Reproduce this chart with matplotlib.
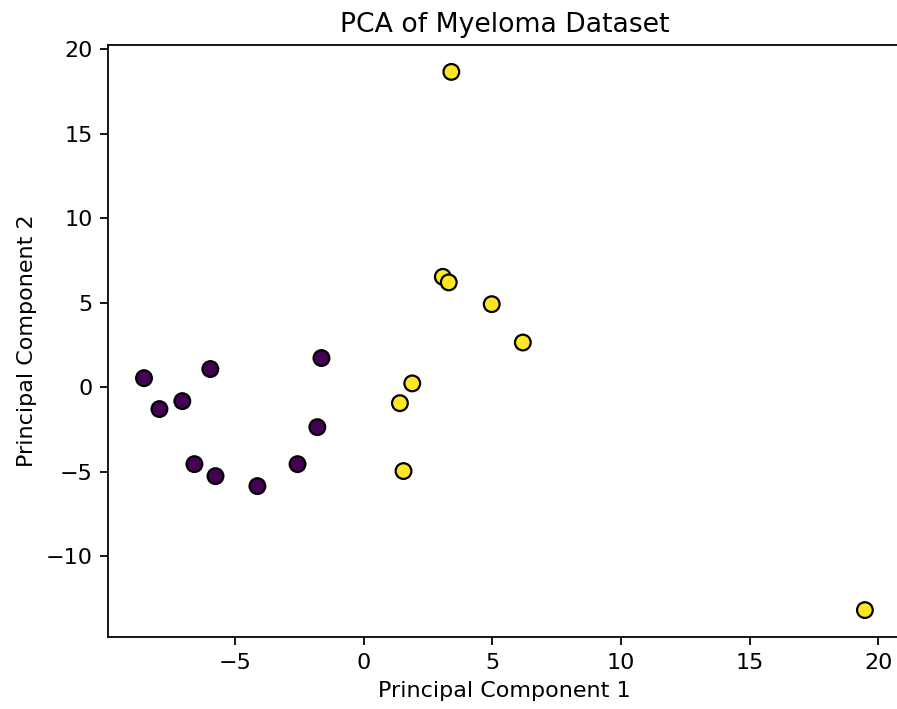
import numpy as np
import matplotlib.pyplot as plt

# PCA coordinates
pc1 = [-8.55, -7.95, -7.06, -5.97, -6.59, -5.77, -4.14, -2.58, -1.81, -1.65,
       1.88, 1.40, 1.54, 3.40, 3.07, 3.30, 4.97, 6.18, 19.48]
pc2 = [0.53, -1.30, -0.83, 1.07, -4.56, -5.27, -5.86, -4.56, -2.37, 1.72,
       0.22, -0.95, -4.97, 18.66, 6.53, 6.20, 4.91, 2.64, -13.20]
group = [0, 0, 0, 0, 0, 0, 0, 0, 0, 0,
         1, 1, 1, 1, 1, 1, 1, 1, 1]

fig = plt.figure(figsize=(897 / 160, 709 / 160), dpi=160)
# the reference is cropped on the right, so the axes run past the edge
ax = fig.add_axes([108 / 897, 72 / 709, 805 / 897, 592 / 709])
ax.scatter(pc1, pc2, c=group, cmap='viridis', edgecolor='k', s=50)
ax.set_xlim(-9.95, 21.35)
centre = (504.5 - 108) / 805
ax.set_title('PCA of Myeloma Dataset', x=centre)
ax.set_xlabel('Principal Component 1', x=centre)
ax.set_ylabel('Principal Component 2')

fig.savefig('out.png', dpi=160)
